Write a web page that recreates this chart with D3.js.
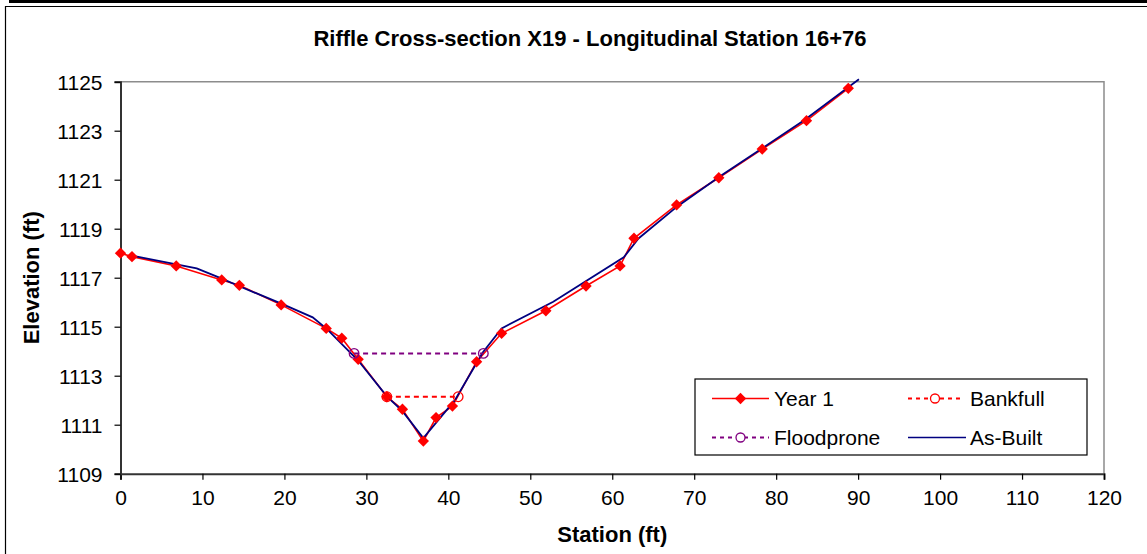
<!DOCTYPE html>
<html>
<head>
<meta charset="utf-8">
<script src="https://cdn.jsdelivr.net/npm/d3@7"></script>
<style>
  html, body { margin: 0; padding: 0; background: #fff; }
  svg { display: block; font-family: "Liberation Sans", Arial, sans-serif; }
</style>
</head>
<body>
<svg id="chart" width="1147" height="554"></svg>
<script>
// ---- Data ----
const chartTitle = "Riffle Cross-section X19 - Longitudinal Station 16+76";
const xAxisTitle = "Station (ft)";
const yAxisTitle = "Elevation (ft)";

const year1Station = [0, 1.4, 6.8, 12.35, 14.5, 19.6, 25.1, 27.0, 29.0, 32.5, 34.4, 36.95, 38.5, 40.5, 43.45, 46.5, 51.9, 56.8, 60.95, 62.65, 67.85, 73.0, 78.3, 83.7, 88.8];
const year1Elev    = [1118.0, 1117.86, 1117.48, 1116.91, 1116.69, 1115.89, 1114.93, 1114.53, 1113.67, 1112.14, 1111.63, 1110.33, 1111.29, 1111.76, 1113.57, 1114.73, 1115.65, 1116.66, 1117.48, 1118.61, 1119.97, 1121.08, 1122.25, 1123.41, 1124.73];

const asBuiltStation = [1.4, 9.3, 12.3, 14.5, 19.7, 23.45, 25.2, 29.0, 32.5, 34.4, 36.95, 40.8, 44.2, 46.5, 52.8, 61.4, 63.2, 67.9, 73.2, 78.4, 83.5, 90.1];
const asBuiltElev    = [1117.9, 1117.38, 1116.97, 1116.65, 1115.93, 1115.38, 1114.9, 1113.62, 1112.16, 1111.55, 1110.45, 1112.0, 1113.95, 1114.93, 1116.02, 1117.83, 1118.6, 1119.9, 1121.15, 1122.3, 1123.45, 1125.1];

const bankfullStation = [32.5, 41.2];
const bankfullElev    = [1112.14, 1112.14];

const floodproneStation = [28.5, 44.27];
const floodproneElev    = [1113.91, 1113.91];

const xTicks = [0, 10, 20, 30, 40, 50, 60, 70, 80, 90, 100, 110, 120];
const yTicks = [1109, 1111, 1113, 1115, 1117, 1119, 1121, 1123, 1125];

const legendLabels = ["Year 1", "Bankfull", "Floodprone", "As-Built"];

// ---- Layout ----
const svg = d3.select("#chart");
const W = 1147, H = 554;
const plot = { left: 120.5, right: 1104, top: 81.7, bottom: 473.7 };

const x = d3.scaleLinear().domain([0, 120]).range([plot.left, plot.right]);
const y = d3.scaleLinear().domain([1109, 1125]).range([plot.bottom, plot.top]);

// outer frame
svg.append("rect").attr("x", 0).attr("y", 0).attr("width", W).attr("height", H).attr("fill", "#fff");
svg.append("rect").attr("x", 9).attr("y", 0).attr("width", W - 9).attr("height", 3).attr("fill", "#000");
svg.append("path").attr("d", `M5.5,${H + 5} V6.5 H${W + 5}`).attr("fill", "none").attr("stroke", "#000").attr("stroke-width", 1.2);

// plot area top/right border (gray)
svg.append("path")
  .attr("d", `M${plot.left},${plot.top} H${plot.right} V${plot.bottom}`)
  .attr("fill", "none").attr("stroke", "#8c8c8c").attr("stroke-width", 1.5);

// title
svg.append("text").attr("x", 590).attr("y", 46).attr("text-anchor", "middle")
  .attr("font-size", 22).attr("font-weight", "bold").attr("fill", "#000").text(chartTitle);

// axes
const xAxis = d3.axisBottom(x).tickValues(xTicks).tickSize(6).tickPadding(10).tickFormat(d3.format("d"));
const yAxis = d3.axisLeft(y).tickValues(yTicks).tickSize(6).tickPadding(12).tickFormat(d3.format("d"));

const gx = svg.append("g").attr("transform", `translate(0,${plot.bottom})`).call(xAxis);
const gy = svg.append("g").attr("transform", `translate(${plot.left},0)`).call(yAxis);
[gx, gy].forEach(g => {
  g.select(".domain").attr("stroke", "#333").attr("stroke-width", 2);
  g.selectAll(".tick line").attr("stroke", "#000").attr("stroke-width", 1.2);
  g.selectAll(".tick text").attr("font-size", 21).attr("fill", "#000")
    .attr("font-family", "'Liberation Sans', Arial, sans-serif");
});
gy.selectAll(".tick text").attr("dy", "0.36em");

// axis titles
svg.append("text").attr("x", (plot.left + plot.right) / 2).attr("y", 542).attr("text-anchor", "middle")
  .attr("font-size", 22).attr("font-weight", "bold").text(xAxisTitle);
svg.append("text").attr("transform", `translate(39,${(plot.top + plot.bottom) / 2}) rotate(-90)`)
  .attr("text-anchor", "middle").attr("font-size", 22).attr("font-weight", "bold").text(yAxisTitle);

// series helpers
const zip = (xs, ys) => xs.map((v, i) => [v, ys[i]]);
const line = d3.line().x(d => x(d[0])).y(d => y(d[1]));

const year1 = zip(year1Station, year1Elev);
const asBuilt = zip(asBuiltStation, asBuiltElev);
const bankfull = zip(bankfullStation, bankfullElev);
const floodprone = zip(floodproneStation, floodproneElev);

const diamond = (g, cx, cy, s) => g.append("rect")
  .attr("x", -s / 2).attr("y", -s / 2).attr("width", s).attr("height", s)
  .attr("transform", `translate(${cx},${cy}) rotate(45)`).attr("fill", "#ff0000");

// Year 1 line
svg.append("path").datum(year1).attr("d", line).attr("fill", "none")
  .attr("stroke", "#ff0000").attr("stroke-width", 1.6);

// As-built
svg.append("path").datum(asBuilt).attr("d", line).attr("fill", "none")
  .attr("stroke", "#000080").attr("stroke-width", 1.8);

// Year 1 markers
const gm = svg.append("g");
year1.forEach(d => diamond(gm, x(d[0]), y(d[1]), 8));

// Floodprone
svg.append("path").datum(floodprone).attr("d", line).attr("fill", "none")
  .attr("stroke", "#800080").attr("stroke-width", 2).attr("stroke-dasharray", "5,4");
svg.append("g").selectAll("circle").data(floodprone).join("circle")
  .attr("cx", d => x(d[0])).attr("cy", d => y(d[1])).attr("r", 4.8)
  .attr("fill", "none").attr("stroke", "#800080").attr("stroke-width", 1.3);

// Bankfull
svg.append("path").datum(bankfull).attr("d", line).attr("fill", "none")
  .attr("stroke", "#ff0000").attr("stroke-width", 2).attr("stroke-dasharray", "5,4");
svg.append("g").selectAll("circle").data(bankfull).join("circle")
  .attr("cx", d => x(d[0])).attr("cy", d => y(d[1])).attr("r", 4.8)
  .attr("fill", "none").attr("stroke", "#ff0000").attr("stroke-width", 1.3);

// Legend
const lg = svg.append("g");
lg.append("rect").attr("x", 695).attr("y", 379).attr("width", 392).attr("height", 76)
  .attr("fill", "#fff").attr("stroke", "#000").attr("stroke-width", 1.2);

const items = [
  { label: legendLabels[0], x0: 712, x1: 769, y: 398.5, color: "#ff0000", dash: null, marker: "diamond" },
  { label: legendLabels[1], x0: 908, x1: 962, y: 398.5, color: "#ff0000", dash: "4,4", marker: "circle" },
  { label: legendLabels[2], x0: 712, x1: 769, y: 437.5, color: "#800080", dash: "4,4", marker: "circle" },
  { label: legendLabels[3], x0: 908, x1: 966, y: 437.5, color: "#000080", dash: null, marker: null }
];
items.forEach(it => {
  lg.append("line").attr("x1", it.x0).attr("x2", it.x1).attr("y1", it.y).attr("y2", it.y)
    .attr("stroke", it.color).attr("stroke-width", it.dash ? 1.8 : 1.6)
    .attr("stroke-dasharray", it.dash);
  const mx = (it.x0 + it.x1) / 2;
  if (it.marker === "diamond") diamond(lg, mx, it.y, 8);
  if (it.marker === "circle") lg.append("circle").attr("cx", mx).attr("cy", it.y).attr("r", 4.5)
    .attr("fill", "#fff").attr("stroke", it.color).attr("stroke-width", 1.3);
  lg.append("text").attr("x", it.x0 < 800 ? 774 : 970).attr("y", it.y + 7.5)
    .attr("font-size", 21).attr("fill", "#000").text(it.label);
});
</script>
</body>
</html>
